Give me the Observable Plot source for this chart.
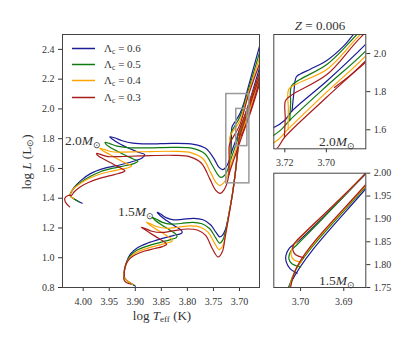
<!DOCTYPE html>
<html><head><meta charset="utf-8">
<script src="https://cdn.jsdelivr.net/npm/d3@7"></script>
<script src="https://cdn.jsdelivr.net/npm/@observablehq/plot@0.6"></script>
<style>
html,body{margin:0;padding:0;background:#fff;}
#wrap{position:relative;width:415px;height:338px;background:#fff;overflow:hidden;font-family:'Liberation Serif',serif;color:#333;}
.pl{position:absolute;}
.lab{position:absolute;white-space:nowrap;line-height:1;}
sub{font-size:70%;vertical-align:-0.3em;line-height:0;}
.leg{position:absolute;left:72px;font-size:11px;white-space:nowrap;line-height:1;}
.leg svg{vertical-align:middle;margin-right:9px;}
</style></head>
<body>
<div id="wrap">
  <div id="main" class="pl" style="left:0;top:0"></div>
  <div id="in1" class="pl" style="left:260px;top:0"></div>
  <div id="in2" class="pl" style="left:260px;top:168px"></div>
</div>
<script>
// ---------- data ----------
const lambdas = ["0.6", "0.5", "0.4", "0.3"];
const masses = ["2.0", "1.5"];
const xTicksMain = [4.00, 3.95, 3.90, 3.85, 3.80, 3.75, 3.70];
const yTicksMain = [0.8, 1.0, 1.2, 1.4, 1.6, 1.8, 2.0, 2.2, 2.4];
const xTicksIn20 = [3.72, 3.70];
const yTicksIn20 = [1.6, 1.8, 2.0];
const xTicksIn15 = [3.70, 3.69];
const yTicksIn15 = [1.75, 1.80, 1.85, 1.90, 1.95, 2.00];
const mainX = [4.0397, 3.6616];
const mainY = [0.8, 2.5];
const zoom20X = [3.7253, 3.681];
const zoom20Y = [1.5, 2.1];
const zoom15X = [3.7062, 3.6849];
const zoom15Y = [1.75, 2.0];

// 2.0 Msun tracks [logTeff, logL]
const m20_l06_a = [[4.002,1.366],[4.014,1.388],[4.025,1.417],[4.018,1.470],[4.004,1.520],[3.986,1.565],[3.960,1.600],[3.928,1.625],[3.900,1.652],[3.887,1.670],[3.882,1.693],[3.893,1.707],[3.910,1.732],[3.930,1.766],[3.945,1.800],[3.949,1.813],[3.940,1.806],[3.925,1.786],[3.905,1.770],[3.875,1.765],[3.826,1.769],[3.788,1.762],[3.765,1.735],[3.749,1.666],[3.740,1.610],[3.733,1.592],[3.726,1.608],[3.720,1.650],[3.7165,1.699],[3.6996,1.857],[3.681,2.049],[3.645,2.477]];
const m20_l06_b = [[3.7165,1.699],[3.7157,1.787],[3.7145,1.877],[3.7125,1.893],[3.7077,1.918],[3.6996,1.965],[3.6916,2.040],[3.6871,2.098],[3.645,2.630]];
const m20_l05_a = [[4.008,1.376],[4.016,1.392],[4.025,1.418],[4.018,1.466],[4.004,1.508],[3.986,1.547],[3.967,1.578],[3.945,1.600],[3.920,1.618],[3.903,1.632],[3.895,1.648],[3.904,1.664],[3.920,1.690],[3.940,1.725],[3.955,1.758],[3.958,1.775],[3.950,1.768],[3.935,1.750],[3.915,1.740],[3.880,1.738],[3.826,1.742],[3.790,1.735],[3.767,1.700],[3.752,1.620],[3.742,1.560],[3.736,1.540],[3.728,1.556],[3.722,1.598],[3.7176,1.650],[3.6996,1.832],[3.681,2.014],[3.645,2.453]];
const m20_l05_b = [[3.7176,1.650],[3.7172,1.740],[3.7168,1.830],[3.7125,1.865],[3.6996,1.944],[3.6852,2.101],[3.645,2.575]];
const m20_l04_a = [[4.018,1.395],[4.025,1.418],[4.019,1.462],[4.005,1.500],[3.987,1.536],[3.967,1.563],[3.945,1.582],[3.925,1.596],[3.912,1.606],[3.907,1.617],[3.916,1.632],[3.932,1.660],[3.950,1.695],[3.965,1.725],[3.968,1.735],[3.960,1.728],[3.945,1.712],[3.925,1.710],[3.890,1.712],[3.826,1.715],[3.792,1.705],[3.770,1.665],[3.755,1.570],[3.745,1.505],[3.738,1.485],[3.730,1.505],[3.723,1.550],[3.7184,1.603],[3.6996,1.800],[3.681,1.988],[3.645,2.420]];
const m20_l04_b = [[3.7184,1.603],[3.7183,1.710],[3.7181,1.813],[3.7141,1.842],[3.6996,1.918],[3.6839,2.098],[3.645,2.520]];
const m20_l03_a = [[4.026,1.342],[4.034,1.372],[4.035,1.402],[4.029,1.418],[4.022,1.420],[4.018,1.440],[4.006,1.476],[3.990,1.506],[3.967,1.535],[3.948,1.552],[3.932,1.566],[3.922,1.578],[3.920,1.585],[3.927,1.600],[3.942,1.628],[3.960,1.662],[3.973,1.690],[3.974,1.701],[3.967,1.694],[3.952,1.680],[3.930,1.680],[3.890,1.684],[3.826,1.688],[3.795,1.678],[3.773,1.635],[3.757,1.530],[3.746,1.455],[3.737,1.433],[3.729,1.460],[3.7235,1.505],[3.7202,1.559],[3.6996,1.773],[3.681,1.962],[3.645,2.385]];
const m20_l03_b = [[3.7202,1.559],[3.7198,1.660],[3.7197,1.752],[3.7170,1.780],[3.6996,1.891],[3.6828,2.093],[3.645,2.460]];
const m20_l03_c = [[3.6961,1.822],[3.681,1.955],[3.645,2.360]];

// 1.5 Msun tracks [logTeff, logL]
const m15_l06_a = [[3.8996,0.809],[3.9124,0.836],[3.9207,0.865],[3.9207,0.914],[3.9169,0.970],[3.9092,1.026],[3.8964,1.066],[3.8772,1.097],[3.8516,1.126],[3.826,1.150],[3.812,1.163],[3.810,1.172],[3.812,1.185],[3.825,1.215],[3.840,1.250],[3.852,1.282],[3.858,1.305],[3.852,1.295],[3.840,1.268],[3.826,1.255],[3.810,1.258],[3.788,1.265],[3.770,1.255],[3.755,1.220],[3.745,1.170],[3.738,1.140],[3.733,1.150],[3.727,1.190],[3.720,1.300],[3.713,1.440],[3.707,1.600],[3.7024,1.758],[3.6849,1.966],[3.645,2.370]];
const m15_l06_b = [[3.7008,1.7814],[3.7024,1.7909],[3.7033,1.8055],[3.7034,1.8200],[3.7027,1.8346],[3.7016,1.8441],[3.7007,1.8499],[3.6849,1.9986],[3.645,2.400]];
const m15_l05_a = [[3.902,0.815],[3.913,0.838],[3.921,0.866],[3.921,0.914],[3.917,0.965],[3.909,1.015],[3.897,1.050],[3.877,1.078],[3.852,1.103],[3.832,1.122],[3.821,1.135],[3.820,1.142],[3.822,1.158],[3.835,1.188],[3.850,1.222],[3.862,1.252],[3.868,1.272],[3.861,1.262],[3.848,1.238],[3.832,1.226],[3.812,1.230],[3.790,1.238],[3.772,1.228],[3.757,1.195],[3.746,1.135],[3.738,1.098],[3.732,1.120],[3.726,1.190],[3.720,1.300],[3.713,1.440],[3.707,1.600],[3.7035,1.720],[3.7012,1.787],[3.6849,1.971],[3.645,2.375]];
const m15_l05_b = [[3.7000,1.7945],[3.7020,1.8018],[3.7027,1.8127],[3.7024,1.8273],[3.7016,1.8368],[3.7010,1.8419],[3.6849,2.0001],[3.645,2.410]];
const m15_l04_a = [[3.905,0.820],[3.914,0.840],[3.921,0.868],[3.921,0.914],[3.917,0.960],[3.910,1.003],[3.898,1.035],[3.880,1.060],[3.858,1.082],[3.840,1.098],[3.831,1.108],[3.829,1.115],[3.832,1.130],[3.845,1.160],[3.860,1.192],[3.872,1.220],[3.8785,1.238],[3.872,1.230],[3.858,1.208],[3.840,1.198],[3.818,1.205],[3.795,1.214],[3.775,1.205],[3.760,1.170],[3.748,1.100],[3.739,1.055],[3.732,1.080],[3.726,1.170],[3.720,1.295],[3.713,1.440],[3.707,1.600],[3.7032,1.720],[3.7010,1.7916],[3.6849,1.973],[3.645,2.378]];
const m15_l04_b = [[3.6997,1.8055],[3.7016,1.8106],[3.7022,1.8222],[3.7020,1.8346],[3.7013,1.8455],[3.6849,2.0001],[3.645,2.415]];
const m15_l03_a = [[3.908,0.822],[3.918,0.835],[3.922,0.855],[3.921,0.880],[3.921,0.914],[3.918,0.955],[3.911,0.992],[3.900,1.020],[3.882,1.045],[3.862,1.062],[3.848,1.075],[3.840,1.089],[3.843,1.103],[3.856,1.132],[3.870,1.162],[3.882,1.190],[3.8886,1.205],[3.882,1.198],[3.868,1.178],[3.850,1.170],[3.828,1.180],[3.800,1.193],[3.780,1.185],[3.765,1.150],[3.752,1.060],[3.741,1.005],[3.733,1.040],[3.727,1.150],[3.720,1.290],[3.713,1.440],[3.707,1.600],[3.703,1.720],[3.7008,1.796],[3.6849,1.9753],[3.645,2.380]];
const m15_l03_b = [[3.6993,1.8149],[3.7012,1.8222],[3.7018,1.8324],[3.7016,1.8441],[3.7010,1.8514],[3.6849,2.0001],[3.645,2.420]];

// ---------- styles ----------
const palette = ["#1c1c96", "#0f7a0f", "#ffa500", "#a81c1c"];
const font = "'Liberation Serif', serif";

// ---------- table ----------
const series = [
  ["2.0","0.6","a",m20_l06_a],["2.0","0.6","b",m20_l06_b],
  ["1.5","0.6","a",m15_l06_a],["1.5","0.6","b",m15_l06_b],
  ["2.0","0.5","a",m20_l05_a],["2.0","0.5","b",m20_l05_b],
  ["1.5","0.5","a",m15_l05_a],["1.5","0.5","b",m15_l05_b],
  ["2.0","0.4","a",m20_l04_a],["2.0","0.4","b",m20_l04_b],
  ["1.5","0.4","a",m15_l04_a],["1.5","0.4","b",m15_l04_b],
  ["2.0","0.3","a",m20_l03_a],["2.0","0.3","b",m20_l03_b],["2.0","0.3","c",m20_l03_c],
  ["1.5","0.3","a",m15_l03_a],["1.5","0.3","b",m15_l03_b]
];
const rows = series.flatMap(([mass, lam, part, pts]) =>
  pts.map(([T, L]) => ({mass, lam, id: mass + "_" + lam + "_" + part, T, L})));
const boxes = [
  {x1: zoom20X[0], x2: zoom20X[1], y1: zoom20Y[0], y2: zoom20Y[1]},
  {x1: zoom15X[0], x2: zoom15X[1], y1: zoom15Y[0], y2: zoom15Y[1]}
];

const baseStyle = {background: "transparent", fontFamily: font, fontSize: "10px", color: "#333", overflow: "visible"};
const colorScale = {domain: lambdas, range: palette};
const lineOpts = {x: "T", y: "L", z: "id", stroke: "lam", strokeWidth: 1.2, curve: "catmull-rom", clip: true};

const main = Plot.plot({
  width: 265, height: 338,
  marginLeft: 62, marginRight: 6, marginTop: 34, marginBottom: 51,
  style: baseStyle,
  x: {domain: mainX, ticks: xTicksMain, tickFormat: ".2f", label: null, tickSize: 4, tickPadding: 6},
  y: {domain: mainY, ticks: yTicksMain, tickFormat: ".1f", label: null, tickSize: 4, tickPadding: 4},
  color: colorScale,
  marks: [
    Plot.line(rows, lineOpts),
    Plot.rect(boxes, {x1: "x1", x2: "x2", y1: "y1", y2: "y2", fill: "none", stroke: "#999", strokeWidth: 1.5}),
    Plot.frame({stroke: "#444"})
  ]
});
document.getElementById("main").appendChild(main);

const in1 = Plot.plot({
  width: 155, height: 168,
  marginLeft: 13.3, marginRight: 49.7, marginTop: 34, marginBottom: 19.7,
  style: baseStyle,
  x: {domain: zoom20X, ticks: xTicksIn20, tickFormat: ".2f", label: null, tickSize: 4, tickPadding: 6},
  y: {domain: zoom20Y, axis: "right", ticks: yTicksIn20, tickFormat: ".1f", label: null, tickSize: 4, tickPadding: 4},
  color: colorScale,
  marks: [
    Plot.line(rows.filter(d => d.mass === masses[0]), lineOpts),
    Plot.frame({stroke: "#444"})
  ]
});
document.getElementById("in1").appendChild(in1);

const in2 = Plot.plot({
  width: 155, height: 170,
  marginLeft: 13.3, marginRight: 49.7, marginTop: 4.7, marginBottom: 51,
  style: baseStyle,
  x: {domain: zoom15X, ticks: xTicksIn15, tickFormat: ".2f", label: null, tickSize: 4, tickPadding: 6},
  y: {domain: zoom15Y, axis: "right", ticks: yTicksIn15, tickFormat: ".2f", label: null, tickSize: 4, tickPadding: 4},
  color: colorScale,
  marks: [
    Plot.line(rows.filter(d => d.mass === masses[1]), lineOpts),
    Plot.frame({stroke: "#444"})
  ]
});
document.getElementById("in2").appendChild(in2);

// ---------- text ----------
const wrap = document.getElementById("wrap");
function label(html, left, top, size, tf) {
  const d = document.createElement("div");
  d.className = "lab";
  d.innerHTML = html;
  d.style.left = left + "px";
  d.style.top = top + "px";
  d.style.fontSize = size + "px";
  d.style.transform = tf;
  wrap.appendChild(d);
}
label("log <i>T</i><sub>eff</sub> (K)", 162, 315, 13, "translate(-50%,-50%)");
label("log <i>L</i> (L<sub>⊙</sub>)", 26, 162, 13, "translate(-50%,-50%) rotate(-90deg)");
label("<i>Z</i> = 0.006", 320, 25, 13, "translate(-50%,-50%)");
label(masses[0] + "<i>M</i><sub>⊙</sub>", 101, 141, 13.5, "translate(-100%,-50%)");
label(masses[1] + "<i>M</i><sub>⊙</sub>", 154, 212, 13.5, "translate(-100%,-50%)");
label(masses[0] + "<i>M</i><sub>⊙</sub>", 355, 142, 13.5, "translate(-100%,-50%)");
label(masses[1] + "<i>M</i><sub>⊙</sub>", 355, 281, 13.5, "translate(-100%,-50%)");

const legTop = [48, 64, 80, 96.5];
lambdas.forEach((lam, i) => {
  const d = document.createElement("div");
  d.className = "leg";
  d.style.top = legTop[i] + "px";
  d.style.transform = "translateY(-50%)";
  d.innerHTML = `<svg width="23" height="4"><line x1="0" x2="23" y1="2" y2="2" stroke="${palette[i]}" stroke-width="1.5"/></svg>Λ<sub>c</sub> = ${lam}`;
  wrap.appendChild(d);
});
</script>
</body></html>
